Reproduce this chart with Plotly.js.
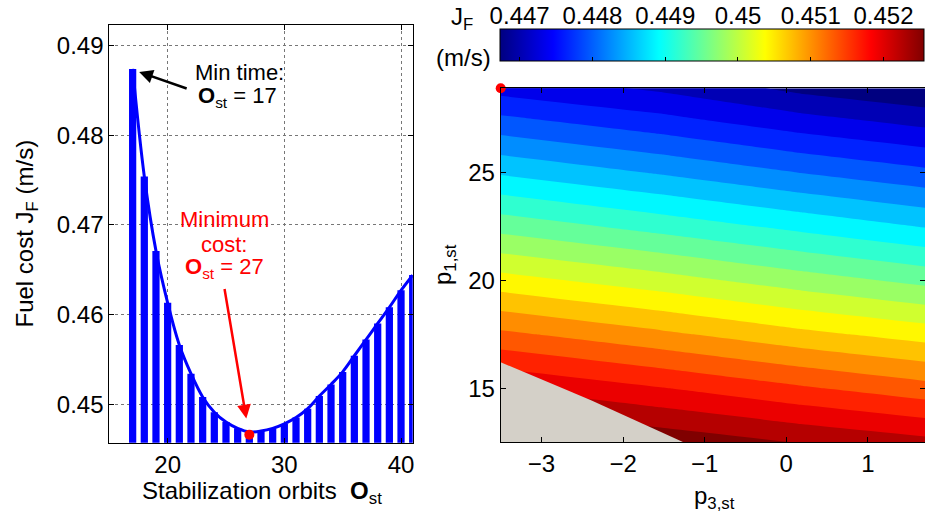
<!DOCTYPE html>
<html>
<head>
<meta charset="utf-8">
<script src="https://cdn.plot.ly/plotly-3.0.1.min.js"></script>
<style>html,body{margin:0;padding:0;background:#fff;}#chart{width:925px;height:520px;}</style>
</head>
<body>
<div id="chart"></div>
<script>
// ---- Left panel data: fuel cost vs number of stabilization orbits ----
const orbits = [17,18,19,20,21,22,23,24,25,26,27,28,29,30,31,32,33,34,35,36,37,38,39,40,41];
const fuelCost = [0.4874,0.4754,0.4671,0.4613,0.4566,0.4534,0.4508,0.4491,0.4480,0.4473,
                  0.4469,0.4470,0.4473,0.4478,0.4485,0.4495,0.4509,0.4522,0.4536,0.4554,
                  0.4572,0.4590,0.4608,0.4627,0.4644];
const minCostOrbit = [27];
const minCostValue = [0.4466];
const xTicksLeft = [20, 30, 40];
const yTicksLeft = [0.45, 0.46, 0.47, 0.48, 0.49];
const yTickTextLeft = ['0.45', '0.46', '0.47', '0.48', '0.49'];

// ---- Right panel data: J_F over (p3,st , p1,st) ----
const p3Grid = [-3.5, -1.54, 0.18, 1.7];
const p1Grid = [12.5, 15, 17.5, 20, 22.5, 25, 27.5, 28.9];
const jfGrid = [
  [0.452790, 0.452481, 0.452254, 0.452067],
  [0.451980, 0.451703, 0.451435, 0.451216],
  [0.451167, 0.450875, 0.450601, 0.450394],
  [0.450345, 0.450062, 0.449785, 0.449563],
  [0.449537, 0.449243, 0.448980, 0.448753],
  [0.448733, 0.448450, 0.448179, 0.447966],
  [0.447946, 0.447672, 0.447392, 0.447182],
  [0.447491, 0.447263, 0.446940, 0.446745]
];
const jfLevelStart = 0.4470215;
const jfLevelEnd = 0.452275;
const jfLevelStep = 0.0002915;
const infeasP3 = [-3.5, -2.40, -1.26, -3.5];
const infeasP1 = [16.21, 14.46, 12.5, 12.5];
const optP3 = [-3.5];
const optP1 = [28.9];
const cbMin = 0.44673, cbMax = 0.45256;
const cbTicks = [0.447, 0.448, 0.449, 0.45, 0.451, 0.452];
const cbTickText = ['0.447', '0.448', '0.449', '0.45', '0.451', '0.452'];
const xTicksRight = [-3, -2, -1, 0, 1];
const yTicksRight = [15, 20, 25];

const jet = [[0,'rgb(0,0,128)'],[0.125,'rgb(0,0,255)'],[0.375,'rgb(0,255,255)'],
             [0.625,'rgb(255,255,0)'],[0.875,'rgb(255,0,0)'],[1,'rgb(128,0,0)']];

const W = 925, H = 520;
const px = x => x / W;
const py = y => 1 - y / H;
const FONT = '"Liberation Sans", Arial, Helvetica, sans-serif';

const traces = [
  { type: 'bar', x: orbits, y: fuelCost, width: 0.62, marker: {color: '#0000FF', line: {width: 0}},
    xaxis: 'x', yaxis: 'y', hoverinfo: 'x+y' },
  { type: 'scatter', mode: 'lines', x: orbits, y: fuelCost, line: {color: '#0000FF', width: 3, shape: 'spline'},
    xaxis: 'x', yaxis: 'y' },
  { type: 'scatter', mode: 'markers', x: minCostOrbit, y: minCostValue,
    marker: {color: '#FF0000', size: 10}, cliponaxis: false, xaxis: 'x', yaxis: 'y' },
  { type: 'contour', x: p3Grid, y: p1Grid, z: jfGrid, xaxis: 'x2', yaxis: 'y2',
    autocontour: false, colorscale: jet, showscale: false,
    contours: {start: jfLevelStart, end: jfLevelEnd, size: jfLevelStep, coloring: 'fill', showlines: false},
    line: {width: 0, smoothing: 0} },
  { type: 'scatter', mode: 'lines', x: infeasP3, y: infeasP1, fill: 'toself', fillcolor: '#D4D0C8',
    line: {width: 0, color: '#D4D0C8'}, xaxis: 'x2', yaxis: 'y2', hoverinfo: 'skip' },
  { type: 'scatter', mode: 'markers', x: optP3, y: optP1, xaxis: 'x2', yaxis: 'y2',
    marker: {color: '#FF0000', size: 10}, cliponaxis: false },
  // colour bar carrier, on its own axis whose top side carries the J_F tick labels
  { type: 'scatter', mode: 'markers', x: [cbMin], y: [0.5], xaxis: 'x3', yaxis: 'y3', hoverinfo: 'skip',
    marker: {size: 1, opacity: 0, color: [cbMin], cmin: cbMin, cmax: cbMax, colorscale: jet, showscale: true,
      colorbar: {orientation: 'h', x: px(500), xanchor: 'left', y: py(29.3), yanchor: 'top',
        len: 424.3, lenmode: 'pixels', thickness: 32, thicknessmode: 'pixels', xpad: 0, ypad: 0,
        outlinewidth: 1, outlinecolor: '#000', tickvals: cbTicks, showticklabels: false,
        ticks: 'inside', ticklen: 4, tickcolor: '#000'}} }
];

const axisCommon = {
  showline: true, linecolor: '#000', linewidth: 1, ticks: 'inside', ticklen: 5, tickcolor: '#000',
  tickfont: {family: FONT, size: 24, color: '#000'}, zeroline: false, fixedrange: true
};

const annFont = (size, color) => ({family: FONT, size: size, color: color});
const annotations = [
  {xref: 'paper', yref: 'paper', x: px(262), y: py(492), text: 'Stabilization orbits&nbsp;&nbsp;<b>O</b><sub>st</sub>',
   showarrow: false, font: annFont(24, '#000'), xanchor: 'center', yanchor: 'middle'},
  {xref: 'paper', yref: 'paper', x: px(26), y: py(233.5), text: 'Fuel cost J<sub>F</sub> (m/s)', textangle: -90,
   showarrow: false, font: annFont(24, '#000'), xanchor: 'center', yanchor: 'middle'},
  {xref: 'paper', yref: 'paper', x: px(239), y: py(73), text: 'Min time:',
   showarrow: false, font: annFont(22, '#000'), xanchor: 'center', yanchor: 'middle'},
  {xref: 'paper', yref: 'paper', x: px(238), y: py(97), text: '<b>O</b><sub>st</sub> = 17',
   showarrow: false, font: annFont(22, '#000'), xanchor: 'center', yanchor: 'middle'},
  {xref: 'paper', yref: 'paper', x: px(224.7), y: py(219), text: 'Minimum',
   showarrow: false, font: annFont(22, '#FF0000'), xanchor: 'center', yanchor: 'middle'},
  {xref: 'paper', yref: 'paper', x: px(224), y: py(244.5), text: 'cost:',
   showarrow: false, font: annFont(22, '#FF0000'), xanchor: 'center', yanchor: 'middle'},
  {xref: 'paper', yref: 'paper', x: px(224.5), y: py(268), text: '<b>O</b><sub>st</sub> = 27',
   showarrow: false, font: annFont(22, '#FF0000'), xanchor: 'center', yanchor: 'middle'},
  {xref: 'x', yref: 'y', x: 17.56, y: 0.48706, ax: 49, ay: 17, text: '', showarrow: true,
   arrowhead: 2, arrowsize: 1.1, arrowwidth: 2.5, arrowcolor: '#000', standoff: 0},
  {xref: 'x', yref: 'y', x: 26.74, y: 0.4484, ax: -22, ay: -131, text: '', showarrow: true,
   arrowhead: 2, arrowsize: 1.1, arrowwidth: 2.5, arrowcolor: '#FF0000', standoff: 0},
  {xref: 'paper', yref: 'paper', x: px(714), y: py(497), text: 'p<sub>3,st</sub>',
   showarrow: false, font: annFont(24, '#000'), xanchor: 'center', yanchor: 'middle'},
  {xref: 'paper', yref: 'paper', x: px(444), y: py(265), text: 'p<sub>1,st</sub>', textangle: -90,
   showarrow: false, font: annFont(24, '#000'), xanchor: 'center', yanchor: 'middle'},
  {xref: 'paper', yref: 'paper', x: px(462), y: py(19), text: 'J<sub>F</sub>',
   showarrow: false, font: annFont(24, '#000'), xanchor: 'center', yanchor: 'middle'},
  {xref: 'paper', yref: 'paper', x: px(463.5), y: py(57), text: '(m/s)',
   showarrow: false, font: annFont(24, '#000'), xanchor: 'center', yanchor: 'middle'}
];

const layout = {
  width: W, height: H, margin: {l: 0, r: 0, t: 0, b: 0}, showlegend: false,
  paper_bgcolor: '#fff', plot_bgcolor: 'rgba(0,0,0,0)', font: {family: FONT, size: 24, color: '#000'},
  xaxis: Object.assign({}, axisCommon, {domain: [px(109.3), px(412.7)], range: [15, 41], tickvals: xTicksLeft,
    mirror: 'ticks', showgrid: true, gridcolor: '#777', griddash: 'dot', gridwidth: 1, anchor: 'y'}),
  yaxis: Object.assign({}, axisCommon, {domain: [py(442.7), py(25)], range: [0.4457, 0.4923],
    tickvals: yTicksLeft, ticktext: yTickTextLeft, mirror: 'ticks', showgrid: true, gridcolor: '#777',
    griddash: 'dot', gridwidth: 1, anchor: 'x'}),
  xaxis2: Object.assign({}, axisCommon, {domain: [px(500.7), 1], range: [-3.5, 1.7], tickvals: xTicksRight,
    mirror: 'ticks', showgrid: false, anchor: 'y2'}),
  yaxis2: Object.assign({}, axisCommon, {domain: [py(442.3), py(88.3)], range: [12.5, 28.9], tickvals: yTicksRight,
    mirror: 'ticks', showgrid: false, anchor: 'x2'}),
  xaxis3: {domain: [px(500), px(924.3)], range: [cbMin, cbMax], side: 'top', anchor: 'y3',
    tickvals: cbTicks, ticktext: cbTickText, ticks: '', showline: false, showgrid: false, zeroline: false,
    tickfont: {family: FONT, size: 24, color: '#000'}, fixedrange: true},
  yaxis3: {domain: [py(61), py(29.3)], range: [0, 1], visible: false, fixedrange: true, anchor: 'x3'},
  annotations: annotations
};

Plotly.newPlot('chart', traces, layout, {displayModeBar: false, staticPlot: true});
</script>
</body>
</html>
